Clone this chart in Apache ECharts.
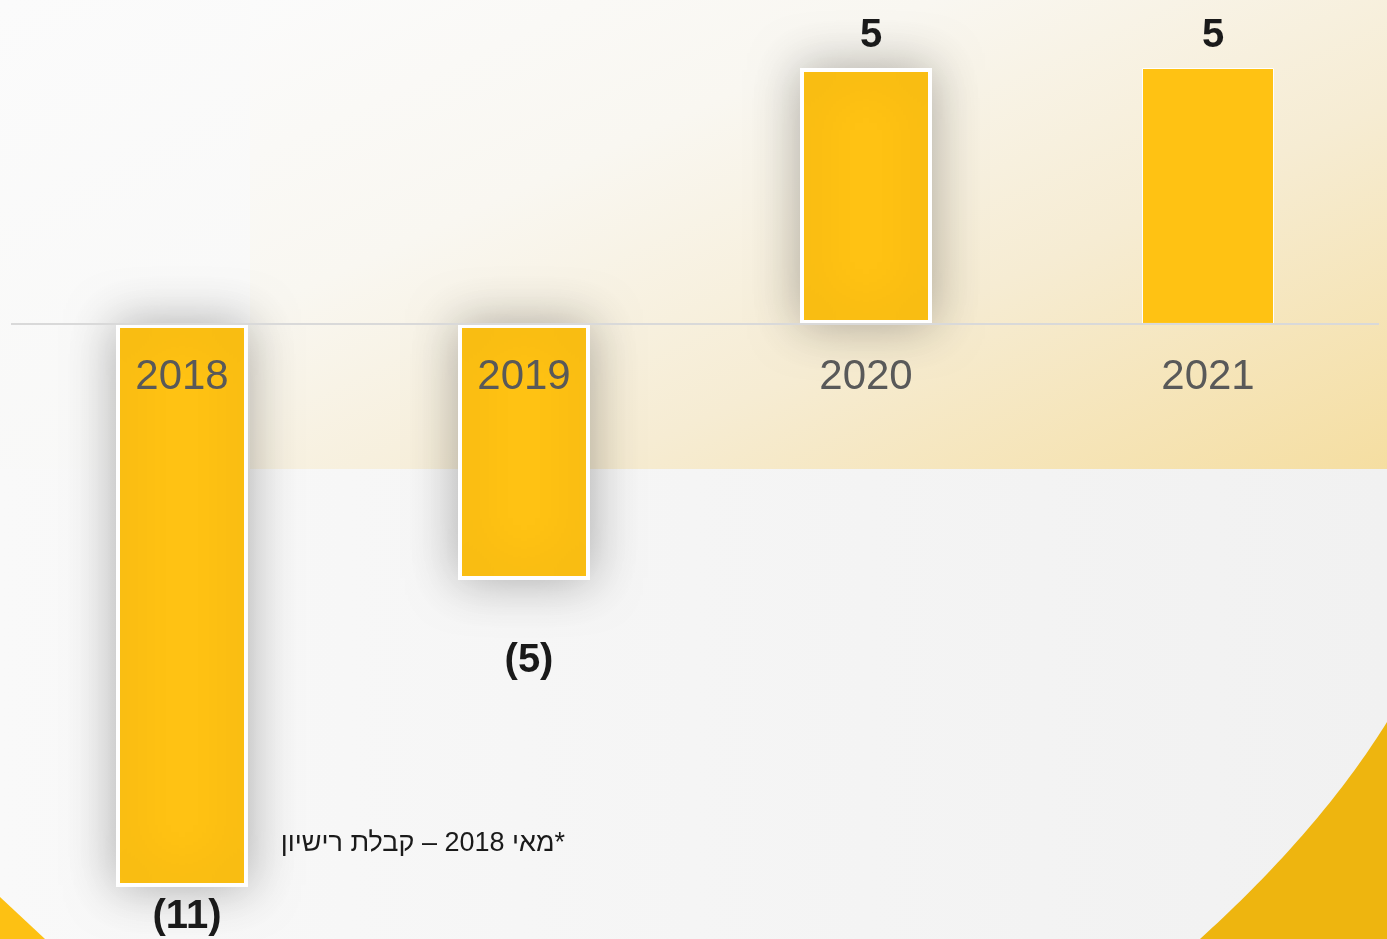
<!DOCTYPE html>
<html>
<head>
<meta charset="utf-8">
<script src="https://cdn.jsdelivr.net/npm/echarts@6/dist/echarts.min.js"></script>
<style>
html,body{margin:0;padding:0;background:#f6f6f6;}
#chart{width:1387px;height:939px;}
</style>
</head>
<body>
<div id="chart"></div>
<script>
// ---- data ----
const categories = ['2018', '2019', '2020', '2021'];
const values = [-11, -5, 5, 5];
const yMin = -11;
const yMax = 5;
const footnote = '\u200F*מאי 2018 – קבלת רישיון';

// ---- chart ----
const chart = echarts.init(document.getElementById('chart'), null, {renderer: 'canvas'});
const FONT = '"Liberation Sans", Arial, sans-serif';

const labelDistance = [10, 61, 12, 12];
const hasShadow = [true, true, true, false];
const barData = values.map((v, i) => ({
  value: v,
  itemStyle: hasShadow[i]
    ? {borderColor: '#ffffff', borderWidth: 4, shadowBlur: 50, shadowColor: 'rgba(0,0,0,0.3)'}
    : {borderColor: '#ffffff', borderWidth: 1, shadowBlur: 0},
  label: {position: v < 0 ? 'bottom' : 'top', distance: labelDistance[i]}
}));

// decorative corner curve (background shape)
const curvePts = [];
for (let k = 0; k <= 40; k++) {
  const t = k / 40;
  const x = (1 - t) * (1 - t) * 1200 + 2 * (1 - t) * t * 1320 + t * t * 1387;
  const y = (1 - t) * (1 - t) * 939 + 2 * (1 - t) * t * 830 + t * t * 722;
  curvePts.push([x, y]);
}
curvePts.push([1387, 939]);

const option = {
  backgroundColor: 'transparent',
  animation: false,
  graphic: [
    {type: 'rect', z: -10, silent: true,
      shape: {x: 0, y: 0, width: 1387, height: 939},
      style: {fill: {type: 'linear', x: 0, y: 0, x2: 1, y2: 0,
        colorStops: [{offset: 0, color: '#f9f9f9'}, {offset: 1, color: '#f1f1f1'}]}}},
    {type: 'rect', z: -9, silent: true,
      shape: {x: 250, y: 0, width: 1137, height: 469},
      style: {fill: {type: 'linear', x: 250, y: 0, x2: 644, y2: 861, global: true,
        colorStops: [{offset: 0, color: '#fbfbfb'}, {offset: 0.3, color: '#f9f7f1'},
          {offset: 0.6, color: '#f6ecd3'}, {offset: 1, color: '#f5dc9a'}]}}},
    {type: 'rect', z: -9, silent: true,
      shape: {x: 0, y: 0, width: 250, height: 469},
      style: {fill: {type: 'linear', x: 0, y: 0, x2: 1, y2: 1,
        colorStops: [{offset: 0, color: '#fbfbfb'}, {offset: 1, color: '#f8f8f7'}]}}},
    {type: 'polygon', z: -8, silent: true,
      shape: {points: curvePts},
      style: {fill: '#eeb50f'}},
    {type: 'polygon', z: -8, silent: true,
      shape: {points: [[0, 897], [45, 939], [0, 939]]},
      style: {fill: '#fdc113'}},
    {type: 'text', z: 5, silent: true,
      x: 565, y: 844,
      style: {text: footnote, fill: '#1a1a1a', font: '27px ' + FONT,
        align: 'right', verticalAlign: 'middle'}}
  ],
  grid: {left: 11, right: 8, top: 68, bottom: 52, containLabel: false, outerBoundsMode: 'none'},
  xAxis: {
    type: 'category',
    data: categories,
    position: 'bottom',
    offset: 0,
    z: 10,
    axisLine: {show: false, onZero: false},
    axisTick: {show: false},
    splitLine: {show: false},
    axisLabel: {
      margin: 32,
      color: '#595959',
      fontFamily: FONT,
      fontSize: 42
    }
  },
  yAxis: {
    type: 'value',
    min: yMin,
    max: yMax,
    show: false,
    splitLine: {show: false}
  },
  series: [
    {
      type: 'bar',
      z: 1,
      data: [],
      silent: true,
      markLine: {
        silent: true,
        symbol: 'none',
        label: {show: false},
        lineStyle: {color: '#d9d9d9', width: 2, type: 'solid'},
        data: [{yAxis: 0}]
      }
    },
    {
      type: 'bar',
      z: 2,
      barWidth: 132,
      barGap: '-100%',
      data: barData,
      itemStyle: {color: '#ffc213'},
      label: {
        show: true,
        color: '#1a1a1a',
        fontFamily: FONT,
        fontSize: 40,
        fontWeight: 'bold',
        offset: [5, 0],
        formatter: p => p.value < 0 ? '(' + Math.abs(p.value) + ')' : String(p.value)
      }
    }
  ]
};
chart.setOption(option);

// place the category axis on the zero line (measured through the y scale)
const zeroY = chart.convertToPixel({yAxisIndex: 0}, 0);
const bottomY = chart.convertToPixel({yAxisIndex: 0}, yMin);
chart.setOption({xAxis: {offset: zeroY - bottomY}});
</script>
</body>
</html>
